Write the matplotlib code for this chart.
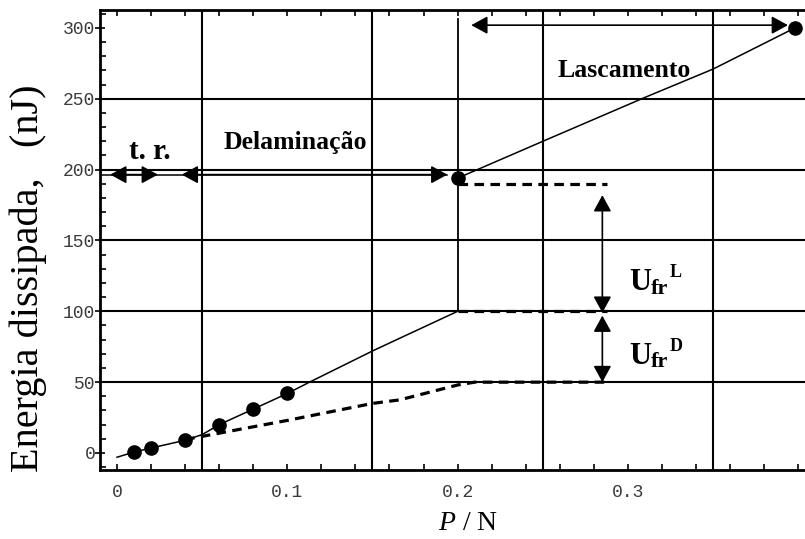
import matplotlib
matplotlib.use("Agg")
import matplotlib.pyplot as plt
import numpy as np
from matplotlib.ticker import MultipleLocator, FixedLocator

plt.rcParams["mathtext.fontset"] = "custom"
plt.rcParams["mathtext.it"] = "Liberation Serif:italic"
plt.rcParams["mathtext.rm"] = "Liberation Serif"
plt.rcParams["mathtext.bf"] = "Liberation Serif:bold"

# Measured indentation points
load_pts = [0.01, 0.02, 0.04, 0.06, 0.08, 0.10, 0.20, 0.398]
energy_pts = [0.7, 3.5, 9, 20, 31, 42, 194, 300]

# Delamination branch (solid)
delam_load = [0.0, 0.01, 0.02, 0.04, 0.05, 0.06, 0.08, 0.10, 0.113, 0.15, 0.166, 0.20]
delam_energy = [-3, 0.7, 3.5, 9, 13, 20, 31, 42, 50, 72, 81, 100]

# Spallation branch (solid)
spall_load = [0.20, 0.25, 0.31, 0.35, 0.398]
spall_energy = [194, 220, 251, 271, 300]

# Baseline without fracture (dashed)
base_load = [0.04, 0.06, 0.10, 0.15, 0.166, 0.20, 0.21, 0.288]
base_energy = [9.5, 14, 23, 35, 37.5, 48, 50, 50]

# Energy levels at the critical load
level_base = 50
level_delam = 100
level_spall = 190
p_crit = 0.20

x_tick_values = [0.0, 0.1, 0.2, 0.3]
x_tick_labels = ["0", "0.1", "0.2", "0.3"]

serif = "Liberation Serif"
mono = "Liberation Mono"

fig = plt.figure(figsize=(8.05, 5.39), dpi=100)
ax = fig.add_axes([100 / 805, 69 / 539, 705 / 805, 460 / 539])
ax.set_xlim(-0.01, 0.404)
ax.set_ylim(-12, 312.7)

# grid
for gx in np.arange(0.05, 0.4, 0.1):
    ax.axvline(gx, color="black", lw=1.5, zorder=1)
for gy in np.arange(50, 300, 50):
    ax.axhline(gy, color="black", lw=1.5, zorder=1)

# curves
ax.plot(delam_load, delam_energy, color="black", lw=1.1, zorder=3)
ax.plot(spall_load, spall_energy, color="black", lw=1.1, zorder=3)
ax.plot([p_crit, p_crit], [level_delam, 306], color="black", lw=1.3, zorder=3)
ax.plot(base_load, base_energy, color="black", lw=2.3, ls=(0, (3, 2)), zorder=3)
ax.plot([p_crit, 0.288], [level_delam, level_delam], color="black", lw=2.3,
        ls=(0, (3, 2)), zorder=3)
ax.plot([p_crit, 0.288], [level_spall, level_spall], color="black", lw=2.3,
        ls=(0, (3, 2)), zorder=3)
ax.plot(load_pts, energy_pts, "o", color="black", ms=9.5, zorder=4, clip_on=False)

# arrows
arrow_kw = dict(arrowstyle="<|-|>,head_length=0.55,head_width=0.3",
                color="black", lw=1.2, shrinkA=0, shrinkB=0, mutation_scale=18)


def darrow(x0, y0, x1, y1):
    ax.annotate("", xy=(x1, y1), xytext=(x0, y0), arrowprops=arrow_kw, zorder=5)


ax.plot([-0.01, 0.194], [196.5, 196.5], color="black", lw=1.1, zorder=3)
darrow(-0.004, 196.5, 0.024, 196.5)
darrow(0.038, 196.5, 0.194, 196.5)
darrow(0.208, 302, 0.394, 302)
darrow(0.285, 182, 0.285, 99)
darrow(0.285, 97, 0.285, 50)

# region labels
bold = dict(family=serif, weight="bold", color="black")
ax.text(0.019, 213, "t. r.", fontsize=21, ha="center", va="center", **bold)
ax.text(0.1045, 219, "Delaminação", fontsize=18.5, ha="center", va="center", **bold)
ax.text(0.298, 270, "Lascamento", fontsize=18.5, ha="center", va="center", **bold)


def ufr(x, y, sup):
    ax.text(x, y, "U", fontsize=22, ha="left", va="baseline", zorder=6, **bold)
    ax.annotate("fr", xy=(x, y), xytext=(15.5, -2.5), textcoords="offset points",
                fontsize=16, ha="left", va="baseline", zorder=6, **bold)
    ax.annotate(sup, xy=(x, y), xytext=(29, 9.5), textcoords="offset points",
                fontsize=13, ha="left", va="baseline", zorder=6, **bold)


ufr(0.301, 115, "L")
ufr(0.301, 63, "D")

# axes styling
for side in ["left", "bottom", "top"]:
    ax.spines[side].set_linewidth(2)
ax.spines["right"].set_visible(False)

ax.xaxis.set_major_locator(FixedLocator(x_tick_values))
ax.xaxis.set_minor_locator(MultipleLocator(0.02))
ax.set_xticklabels(x_tick_labels)
ax.yaxis.set_major_locator(MultipleLocator(50))
ax.yaxis.set_minor_locator(MultipleLocator(10))
ax.tick_params(axis="x", which="both", direction="in", length=4, width=1.2,
               top=True, pad=10)
ax.tick_params(axis="y", which="major", direction="inout", length=7, width=1.2, pad=0)
ax.tick_params(axis="y", which="minor", direction="in", length=4, width=1.2)
for lab in ax.get_xticklabels() + ax.get_yticklabels():
    lab.set_fontfamily(mono)
    lab.set_fontsize(13)
    lab.set_color("#3a3a3a")

fig.text(28 / 805, 1 - 278 / 539, "Energia dissipada,   (nJ)", rotation=90,
         ha="center", va="center", fontsize=29, family=serif)
fig.text(468 / 805, 1 - 523 / 539, "$P$ / N", ha="center", va="center",
         fontsize=20, family=serif)

fig.savefig("out.png", dpi=100)
